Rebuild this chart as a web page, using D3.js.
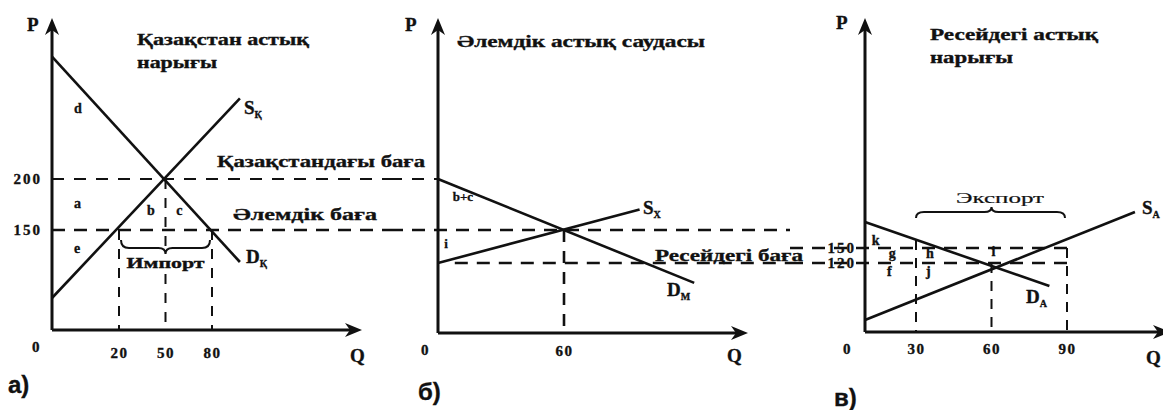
<!DOCTYPE html>
<html><head><meta charset="utf-8">
<script src="https://cdn.jsdelivr.net/npm/d3@7"></script>
<style>
body{margin:0;background:#fff}
svg{display:block}
text{font-family:"Liberation Serif","Times New Roman",serif;font-weight:bold;fill:#111;stroke:#111;stroke-width:0.35px}
</style></head><body>
<svg id="chart" width="1163" height="410"></svg>
<script>
// ---- data ----
// prices
const kzPrice = 200, worldPrice = 150, ruPrice = 120;

// а) Kazakhstan grain market
const kzQTicks = [20, 50, 80];
const kzPTicks = [150, 200];
const kzDemand = [[0, 320], [98, 102]];
const kzSupply = [[0, 48], [98, 279]];
const kzAreas = [["d", 0, 265], ["a", 0, 172], ["b", 38, 165], ["c", 57, 165], ["e", 0, 115]];

// б) world grain trade
const wQTicks = [60];
const wDemand = [[0, 200], [122, 86]];
const wSupply = [[0, 120], [96, 170]];
const wAreas = [["b+c", 7, 178], ["i", 3, 134]];

// в) Russian grain market
const ruQTicks = [30, 60, 90];
const ruPTicks = [120, 150];
const ruDemand = [[0, 202], [83, 80]];
const ruSupply = [[0, 21], [117, 222]];
const ruAreas = [["k", 4, 156], ["g", 14, 130], ["h", 34, 130], ["i", 60, 134], ["f", 13, 98], ["j", 34, 98]];

const titles = {
  kz: ["Қазақстан астық", "нарығы"],
  w: ["Әлемдік астық саудасы"],
  ru: ["Ресейдегі астық", "нарығы"]
};

const svg = d3.select("#chart");
const ink = "#111";

function arrowY(g, x, top) {
  g.append("path").attr("d", `M${x},${top} L${x-7},${top+17} L${x},${top+12} L${x+7},${top+17} Z`).attr("fill", ink);
}
function arrowX(g, right, y) {
  g.append("path").attr("d", `M${right},${y} L${right-17},${y-7} L${right-12},${y} L${right-17},${y+7} Z`).attr("fill", ink);
}
function dashed(g, x1, y1, x2, y2, w, da) {
  g.append("line").attr("x1", x1).attr("y1", y1).attr("x2", x2).attr("y2", y2)
    .attr("stroke", ink).attr("stroke-width", w || 2).attr("stroke-dasharray", da || "12,9");
}
function curve(g, x, y, pts) {
  g.append("path").attr("d", d3.line().x(d => x(d[0])).y(d => y(d[1]))(pts))
    .attr("fill", "none").attr("stroke", ink).attr("stroke-width", 2.6);
}
function txt(g, s, x, y, size, opts) {
  opts = opts || {};
  const t = g.append("text").attr("x", x).attr("y", y).attr("font-size", size).text(s);
  if (opts.anchor) t.attr("text-anchor", opts.anchor);
  if (opts.len) t.attr("textLength", opts.len).attr("lengthAdjust", "spacingAndGlyphs");
  if (opts.family) t.style("font-family", opts.family);
  return t;
}
function curveLabel(g, main, sub, x, y) {
  const t = g.append("text").attr("x", x).attr("y", y).attr("font-size", 19);
  t.append("tspan").text(main);
  t.append("tspan").attr("font-size", 10).attr("dy", 4).text(sub);
}
function axes(g, x, y, top, right, qTicks, pTicks, qPad, pPad) {
  const x0 = x(0), y0 = y(0);
  g.append("line").attr("x1", x0).attr("y1", y0).attr("x2", x0).attr("y2", top + 6).attr("stroke", ink).attr("stroke-width", 3);
  g.append("line").attr("x1", x0).attr("y1", y0).attr("x2", right - 6).attr("y2", y0).attr("stroke", ink).attr("stroke-width", 3);
  arrowY(g, x0, top);
  arrowX(g, right, y0);
  const ax = g.append("g").attr("transform", `translate(0,${y0})`)
    .call(d3.axisBottom(x).tickValues(qTicks).tickSize(0).tickPadding(qPad).tickFormat(d3.format("d")));
  ax.select(".domain").remove();
  ax.selectAll("text").attr("font-size", 15).style("font-family", '"Liberation Serif",serif').attr("fill", ink).attr("letter-spacing", 1.5);
  if (pTicks) {
    const ay = g.append("g").attr("transform", `translate(${x0},0)`)
      .call(d3.axisLeft(y).tickValues(pTicks).tickSize(0).tickPadding(pPad).tickFormat(d3.format("d")));
    ay.select(".domain").remove();
    ay.selectAll("text").attr("font-size", 15).style("font-family", '"Liberation Serif",serif').attr("fill", ink).attr("letter-spacing", 2);
  }
}

// ---------- а) ----------
{
  const g = svg.append("g");
  const x = d3.scaleLinear().domain([0, 20, 80]).range([52, 119, 212]);
  const y = d3.scaleLinear().domain([0, 150, 200]).range([330, 230, 179]);
  // guides
  dashed(g, x(0), y(kzPrice), 390, y(kzPrice), 2, "12,10");
  dashed(g, x(0), y(worldPrice), 390, y(worldPrice), 2.6, "13,9");
  kzQTicks.forEach(q => {
    const top = q === 50 ? y(kzPrice) : y(worldPrice);
    dashed(g, x(q), top, x(q), y(0), 2, "10,9");
  });
  axes(g, x, y, 18, 362, kzQTicks, kzPTicks, 17, 10);
  curve(g, x, y, kzDemand);
  curve(g, x, y, kzSupply);
  curveLabel(g, "S", "Қ", 244, 114);
  curveLabel(g, "D", "Қ", 246, 263);
  kzAreas.forEach(a => txt(g, a[0], a[1] === 0 ? 74 : x(a[1]), y(a[2]), 14));
  // import bracket
  const xa = x(20) + 2, xb = x(80) - 2, xm = x(50), yb = 248;
  g.append("path").attr("d",
    `M${xa},${yb-8} Q${xa},${yb} ${xa+8},${yb} L${xm-7},${yb} Q${xm},${yb} ${xm},${yb+6} Q${xm},${yb} ${xm+7},${yb} L${xb-8},${yb} Q${xb},${yb} ${xb},${yb-8}`)
    .attr("fill", "none").attr("stroke", ink).attr("stroke-width", 2);
  g.append("rect").attr("x", xm - 40).attr("y", 255).attr("width", 80).attr("height", 16).attr("fill", "#fff");
  txt(g, "Импорт", xm, 268, 15, { anchor: "middle", len: 78 });
  txt(g, "P", 27, 31, 19);
  txt(g, "Q", 350, 362, 19);
  txt(g, "0", 32, 352, 15);
  txt(g, "а)", 8, 393, 24, { family: '"Liberation Sans",Arial,sans-serif' });
  txt(g, titles.kz[0], 137, 45, 17, { len: 172 });
  txt(g, titles.kz[1], 137, 68, 17, { len: 80 });
  txt(g, "Қазақстандағы баға", 217, 167, 17, { len: 208 });
  txt(g, "Әлемдік баға", 233, 220, 17, { len: 144 });
}

// ---------- б) ----------
{
  const g = svg.append("g");
  const x = d3.scaleLinear().domain([0, 60]).range([438, 564]);
  const y = d3.scaleLinear().domain([0, 120, 150, 200]).range([333, 263, 230, 179]);
  dashed(g, 390, y(kzPrice), x(0), y(kzPrice), 2, "12,10");
  dashed(g, 390, y(worldPrice), 790, y(worldPrice), 2.6, "13,9");
  dashed(g, x(8), y(ruPrice), 790, y(ruPrice), 2.6, "13,9");
  dashed(g, x(60), y(worldPrice), x(60), y(0), 2.6, "12,9");
  axes(g, x, y, 18, 748, wQTicks, null, 12, 0);
  curve(g, x, y, wDemand);
  curve(g, x, y, wSupply);
  curveLabel(g, "S", "X", 643, 214);
  curveLabel(g, "D", "M", 667, 296);
  wAreas.forEach(a => txt(g, a[0], x(a[1]), y(a[2]), 13));
  txt(g, "P", 405, 31, 19);
  txt(g, "Q", 727, 362, 19);
  txt(g, "0", 421, 355, 15);
  txt(g, "б)", 418, 400, 24, { family: '"Liberation Sans",Arial,sans-serif' });
  txt(g, titles.w[0], 457, 47, 17, { len: 248 });
  txt(g, "Ресейдегі баға", 655, 261, 17, { len: 148 });
}

// ---------- в) ----------
{
  const g = svg.append("g");
  const x = d3.scaleLinear().domain([0, 30, 90]).range([865, 916, 1067]);
  const y = d3.scaleLinear().domain([0, 120, 150]).range([332, 263, 248]);
  dashed(g, 790, y(worldPrice), x(90), y(worldPrice), 2.6, "13,9");
  dashed(g, 790, y(ruPrice), x(90), y(ruPrice), 2.6, "13,9");
  dashed(g, x(30), y(worldPrice) - 8, x(30), y(0), 2, "10,8");
  dashed(g, x(60), y(ruPrice), x(60), y(0), 2, "10,8");
  dashed(g, x(90), y(worldPrice), x(90), y(0), 2, "10,8");
  axes(g, x, y, 18, 1170, ruQTicks, ruPTicks, 11, 9);
  curve(g, x, y, ruDemand);
  curve(g, x, y, ruSupply);
  curveLabel(g, "S", "A", 1142, 214);
  curveLabel(g, "D", "A", 1026, 303);
  ruAreas.forEach(a => txt(g, a[0], x(a[1]), y(a[2]), 14));
  // export bracket
  const xa = x(30), xb = x(90) - 2, xm = x(60), yb = 212;
  g.append("path").attr("d",
    `M${xa},${yb+6} Q${xa},${yb} ${xa+8},${yb} L${xm-7},${yb} Q${xm},${yb} ${xm},${yb-5} Q${xm},${yb} ${xm+7},${yb} L${xb-8},${yb} Q${xb},${yb} ${xb},${yb+6}`)
    .attr("fill", "none").attr("stroke", ink).attr("stroke-width", 2);
  txt(g, "Экспорт", 1000, 203, 14, { anchor: "middle", len: 88 }).style("font-weight", "normal").style("stroke-width", "0.2px");
  txt(g, "P", 836, 29, 19);
  txt(g, "0", 843, 354, 15);
  txt(g, "Q", 1146, 364, 19);
  txt(g, "в)", 834, 406, 24, { family: '"Liberation Sans",Arial,sans-serif' });
  txt(g, titles.ru[0], 930, 40, 17, { len: 168 });
  txt(g, titles.ru[1], 930, 63, 17, { len: 83 });
}
</script>
</body></html>
